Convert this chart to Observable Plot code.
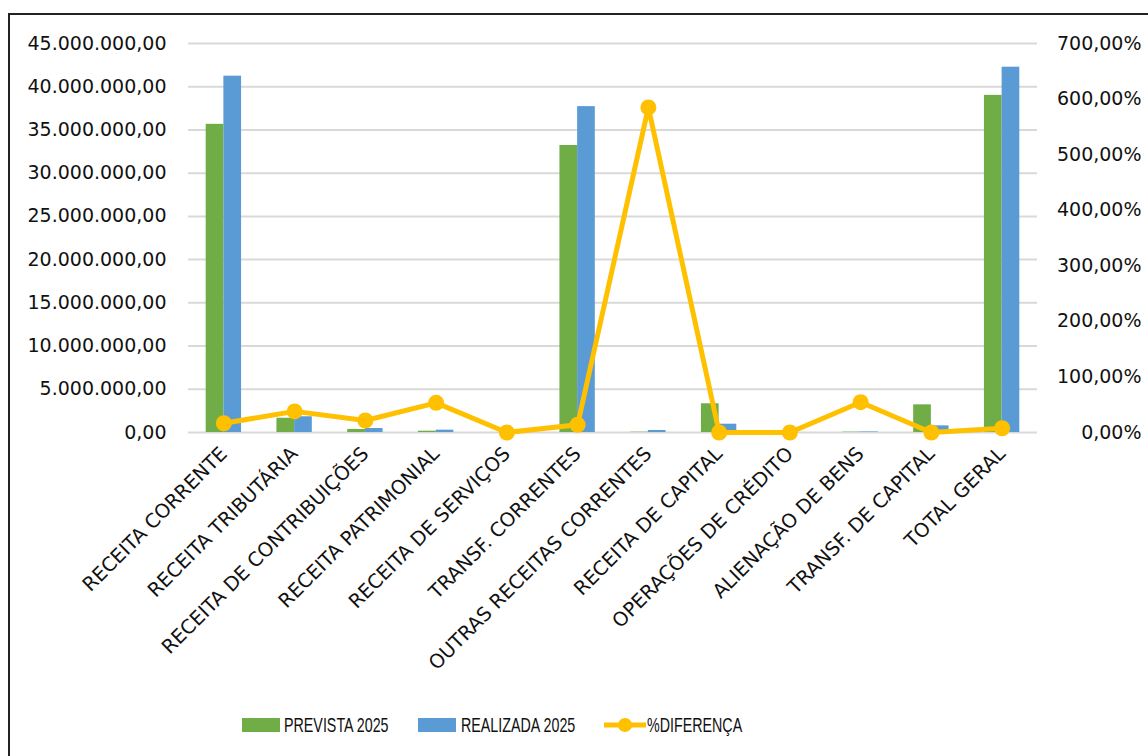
<!DOCTYPE html>
<html>
<head>
<meta charset="utf-8">
<script src="https://cdn.jsdelivr.net/npm/d3@7"></script>
<script src="https://cdn.jsdelivr.net/npm/@observablehq/plot@0.6"></script>
<style>
  html, body { margin: 0; padding: 0; background: #fff; width: 1148px; height: 756px; overflow: hidden; }
  #chart { position: absolute; left: 0; top: 0; }
  #frame { position: absolute; left: 8px; top: 13px; width: 1200px; height: 800px; border: 2px solid #222; pointer-events: none; }
  .leg { position: absolute; top: 712px; height: 26px; font-family: "Liberation Sans", Arial, sans-serif; font-size: 21px; color: #111; }
  .leg .lab { position: absolute; top: 0; white-space: nowrap; transform: scaleX(0.68); transform-origin: left center; line-height: 26px; }
</style>
</head>
<body>
<div id="chart"></div>
<div id="frame"></div>
<div id="legend"></div>
<script>
const categories = ["RECEITA CORRENTE", "RECEITA TRIBUTÁRIA", "RECEITA DE CONTRIBUIÇÕES", "RECEITA PATRIMONIAL", "RECEITA DE SERVIÇOS", "TRANSF. CORRENTES", "OUTRAS RECEITAS CORRENTES", "RECEITA DE CAPITAL", "OPERAÇÕES DE CRÉDITO", "ALIENAÇÃO DE BENS", "TRANSF. DE CAPITAL", "TOTAL GERAL"];
const prevista2025 = [35650000, 1650000, 350000, 150000, 0, 33200000, 34000, 3320000, 0, 40000, 3200000, 39000000];
const realizada2025 = [41220000, 1820000, 460000, 270000, 0, 37700000, 230000, 960000, 0, 62000, 770000, 42260000];
const diferencaPct = [16.7, 38, 21.6, 53.4, 0, 13.9, 585, 0, 0, 54.5, 0, 7.7];
const seriesNames = ["PREVISTA 2025", "REALIZADA 2025", "%DIFERENÇA"];
const leftTicks = [0, 5000000, 10000000, 15000000, 20000000, 25000000, 30000000, 35000000, 40000000, 45000000];
const rightTicks = [0, 100, 200, 300, 400, 500, 600, 700];

const GREEN = "#70AD47", BLUE = "#5B9BD5", GOLD = "#FFC000";
const locale = d3.formatLocale({decimal: ",", thousands: ".", grouping: [3], currency: ["R$", ""]});
const fmtNum = locale.format(",.2f");
const yMax = 45000000, pctMax = 700;
const k = yMax / pctMax; // maps percent onto left scale

const rows = categories.map((c, i) => ({cat: c, prev: prevista2025[i], real: realizada2025[i], pct: diferencaPct[i]}));

const W = 1148, H = 700;
const mL = 188, mR = 111, mT = 43, mB = H - 432;
const step = (W - mL - mR) / categories.length;
const bw = step * 0.5;

const chart = Plot.plot({
  width: W, height: H,
  marginLeft: mL, marginRight: mR, marginTop: mT, marginBottom: mB,
  style: {fontFamily: "DejaVu Sans, sans-serif", fontSize: "19px", color: "#111", background: "transparent"},
  x: {type: "band", domain: categories, paddingInner: 0.5, paddingOuter: 0.25, round: false, label: null},
  y: {domain: [0, yMax], label: null},
  marks: [
    Plot.gridY(leftTicks, {stroke: "#d9d9d9", strokeOpacity: 1, strokeWidth: 2}),
    Plot.barY(rows, {x: "cat", y: "prev", fill: GREEN, insetRight: bw / 2}),
    Plot.barY(rows, {x: "cat", y: "real", fill: BLUE, insetLeft: bw / 2}),
    Plot.line(rows, {x: "cat", y: d => d.pct * k, stroke: GOLD, strokeWidth: 5, curve: "linear"}),
    Plot.dot(rows, {x: "cat", y: d => d.pct * k, r: 8, fill: GOLD, stroke: "none"}),
    Plot.axisY({ticks: leftTicks, tickFormat: fmtNum, tickSize: 0, tickPadding: 22, label: null}),
    Plot.axisY({anchor: "right", ticks: rightTicks.map(v => v * k), tickFormat: v => fmtNum(v / k) + "%", tickSize: 0, tickPadding: 0, textAnchor: "end", dx: 104, label: null}),
    Plot.axisX({tickRotate: -45, tickSize: 0, tickPadding: 18, fontSize: 19.5, label: null})
  ]
});
document.getElementById("chart").appendChild(chart);

// legend
const legend = document.getElementById("legend");
const items = [
  {name: seriesNames[0], color: GREEN, kind: "rect", x: 242, tx: 284},
  {name: seriesNames[1], color: BLUE, kind: "rect", x: 418, tx: 461},
  {name: seriesNames[2], color: GOLD, kind: "line", x: 604, tx: 647}
];
for (const it of items) {
  const d = document.createElement("div");
  d.className = "leg";
  d.style.left = "0px";
  if (it.kind === "rect") {
    d.innerHTML = `<div style="position:absolute;left:${it.x}px;top:6px;width:38px;height:14px;background:${it.color}"></div>`;
  } else {
    d.innerHTML = `<svg style="position:absolute;left:${it.x}px;top:0" width="42" height="26"><line x1="0" y1="13" x2="42" y2="13" stroke="${it.color}" stroke-width="5" stroke-linecap="round"/><circle cx="21" cy="13" r="7" fill="${it.color}"/></svg>`;
  }
  const t = document.createElement("span");
  t.className = "lab";
  t.style.left = it.tx + "px";
  t.textContent = it.name;
  d.appendChild(t);
  legend.appendChild(d);
}
</script>
</body>
</html>
